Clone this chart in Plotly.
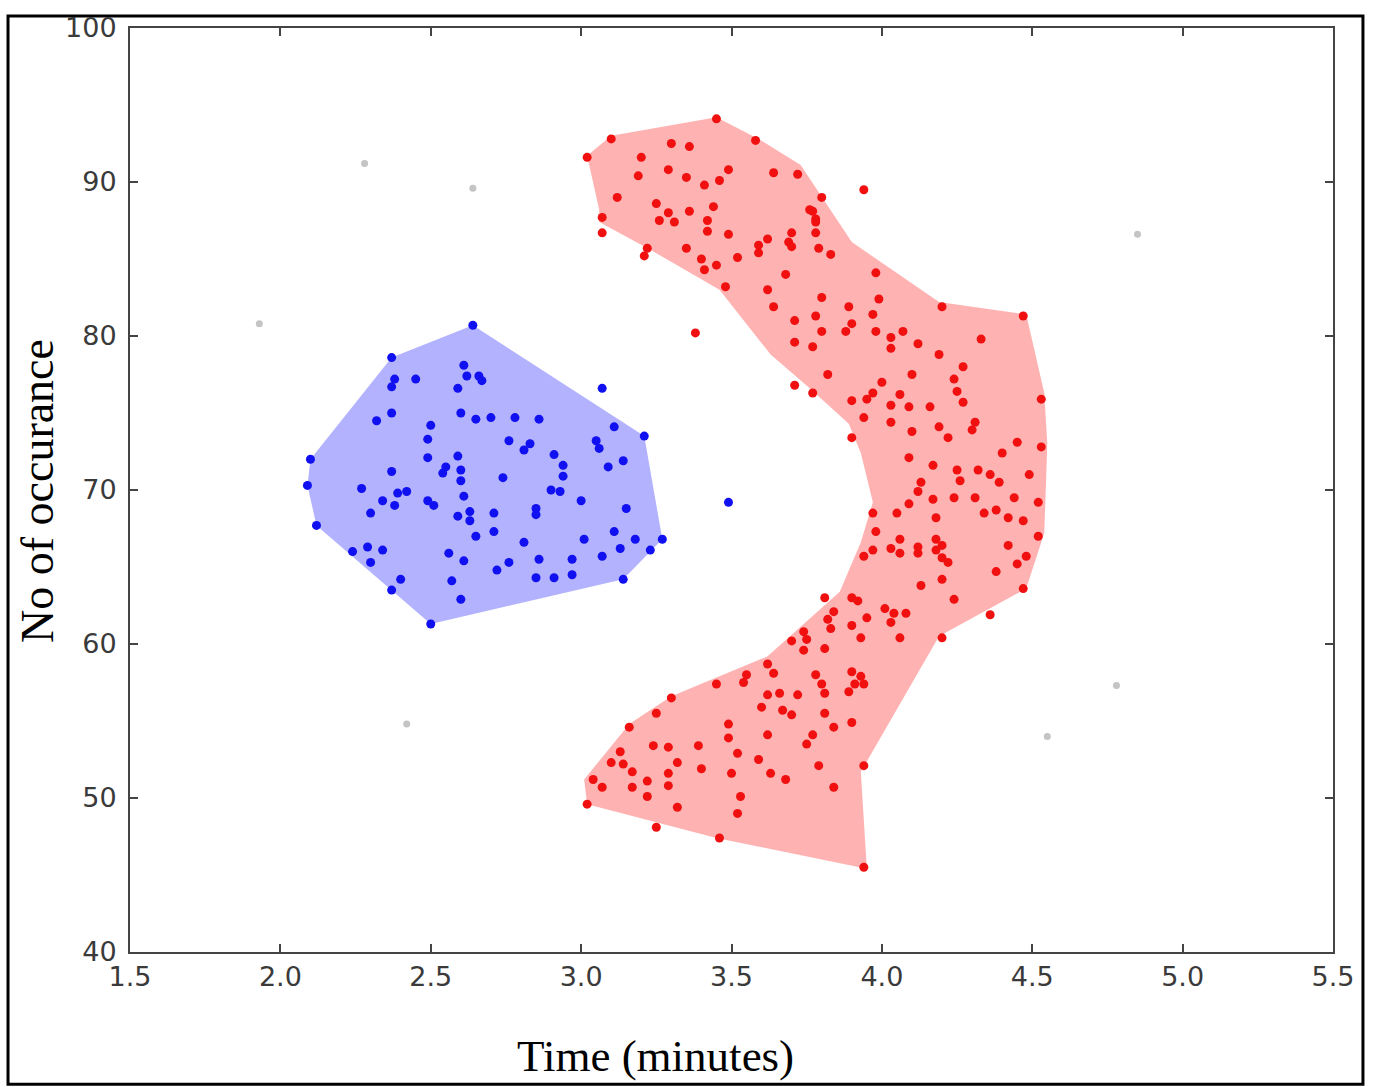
import plotly.graph_objects as go

# ---------------- data (x = minutes, y = occurrences) ----------------
x_ticks = [1.5, 2.0, 2.5, 3.0, 3.5, 4.0, 4.5, 5.0, 5.5]
x_tick_labels = ["1.5", "2.0", "2.5", "3.0", "3.5", "4.0", "4.5", "5.0", "5.5"]
y_ticks = [40, 50, 60, 70, 80, 90, 100]
y_tick_labels = ["40", "50", "60", "70", "80", "90", "100"]

blue_cluster = [
    (2.64, 80.7), (2.37, 78.6), (2.61, 78.1), (2.62, 77.4), (2.66, 77.4), (2.45, 77.2),
    (2.38, 77.2), (2.37, 76.7), (2.59, 76.6), (2.37, 75.0), (2.32, 74.5), (2.60, 75.0),
    (2.65, 74.6), (2.50, 74.2), (2.49, 73.3), (2.10, 72.0), (2.49, 72.1), (2.59, 72.2),
    (2.55, 71.5), (2.54, 71.1), (2.37, 71.2), (2.60, 71.3), (2.60, 70.6), (2.09, 70.3),
    (2.27, 70.1), (2.39, 69.8), (2.42, 69.9), (2.61, 69.6), (2.34, 69.3), (2.38, 69.0),
    (2.49, 69.3), (2.51, 69.0), (2.30, 68.5), (2.59, 68.3), (2.63, 68.6), (2.63, 68.0),
    (2.12, 67.7), (2.65, 67.0), (2.24, 66.0), (2.29, 66.3), (2.34, 66.1), (2.30, 65.3),
    (2.56, 65.9), (2.61, 65.4), (2.40, 64.2), (2.37, 63.5), (2.57, 64.1), (2.60, 62.9),
    (2.50, 61.3), (2.67, 77.1), (2.70, 74.7), (2.78, 74.7), (2.86, 74.6),
    (3.11, 74.1), (3.21, 73.5), (2.76, 73.2), (2.81, 72.6), (2.83, 73.0), (3.05, 73.2),
    (3.06, 72.7), (2.91, 72.3), (3.14, 71.9), (3.09, 71.5), (2.94, 71.6), (2.74, 70.8),
    (2.94, 70.9), (2.90, 70.0), (2.93, 69.9), (3.00, 69.3), (2.85, 68.8), (2.85, 68.4),
    (3.15, 68.8), (2.71, 68.5), (2.71, 67.3), (2.81, 66.6), (3.01, 66.8), (3.11, 67.3),
    (3.18, 66.8), (3.27, 66.8), (3.13, 66.2), (3.23, 66.1), (2.76, 65.3), (2.72, 64.8),
    (2.86, 65.5), (2.97, 65.5), (3.07, 65.7), (2.85, 64.3), (2.91, 64.3), (2.97, 64.5),
    (3.14, 64.2),
]
blue_outliers = [(3.49, 69.2), (3.07, 76.6)]

red_upper = [
    (3.45, 94.1), (3.10, 92.8), (3.02, 91.6), (3.30, 92.5), (3.36, 92.3), (3.58, 92.7),
    (3.20, 91.6), (3.29, 90.8), (3.19, 90.4), (3.35, 90.3), (3.41, 89.8), (3.46, 90.1),
    (3.49, 90.8), (3.64, 90.6), (3.72, 90.5), (3.12, 89.0), (3.25, 88.6), (3.29, 88.0),
    (3.36, 88.1), (3.44, 88.4), (3.26, 87.5), (3.31, 87.4), (3.42, 87.5), (3.42, 86.8),
    (3.49, 86.6), (3.07, 87.7), (3.07, 86.7), (3.22, 85.7), (3.21, 85.2), (3.35, 85.7),
    (3.40, 85.0), (3.41, 84.3), (3.45, 84.6), (3.52, 85.1), (3.59, 85.9), (3.59, 85.4),
    (3.62, 86.3), (3.69, 86.1), (3.70, 86.7), (3.77, 88.1), (3.78, 87.4), (3.78, 86.7),
    (3.80, 89.0), (3.79, 85.7), (3.68, 84.0), (3.48, 83.2), (3.62, 83.0), (3.80, 82.5),
    (3.94, 89.5), (3.76, 88.2), (3.78, 87.6), (3.70, 85.8), (3.83, 85.3), (3.98, 84.1),
    (3.99, 82.4), (3.64, 81.9), (3.78, 81.3), (3.89, 81.9), (3.97, 81.4), (3.90, 80.8),
    (3.88, 80.3), (3.71, 81.0), (3.80, 80.3), (3.98, 80.3), (4.03, 79.9), (4.07, 80.3),
    (4.03, 79.2), (4.12, 79.5), (3.71, 79.6), (3.77, 79.3), (3.38, 80.2), (3.82, 77.5),
    (3.71, 76.8), (3.77, 76.3), (4.00, 77.0), (3.97, 76.3), (4.06, 76.2), (4.10, 77.5),
    (4.19, 78.8), (4.20, 81.9), (4.47, 81.3), (4.33, 79.8), (4.27, 78.0),
]

red_middle = [
    (4.24, 77.2), (4.25, 76.4), (4.27, 75.7), (3.90, 75.8), (3.95, 75.9), (4.03, 75.5),
    (4.09, 75.4), (4.16, 75.4), (3.94, 74.7), (4.03, 74.4), (4.53, 75.9), (4.31, 74.4),
    (4.30, 73.9), (4.19, 74.1), (4.22, 73.4), (4.10, 73.8), (3.90, 73.4), (4.45, 73.1),
    (4.53, 72.8), (4.40, 72.4), (4.09, 72.1), (4.17, 71.6), (4.25, 71.3), (4.32, 71.3),
    (4.36, 71.0), (4.39, 70.5), (4.26, 70.6), (4.13, 70.5), (4.49, 71.0), (4.12, 69.9),
    (4.09, 69.1), (4.17, 69.4), (4.24, 69.5), (4.31, 69.5), (4.44, 69.5), (4.52, 69.2),
    (3.97, 68.5), (4.05, 68.5), (4.18, 68.2), (4.34, 68.5), (4.38, 68.7), (4.42, 68.2),
    (4.47, 68.0), (3.98, 67.3), (4.06, 66.8), (4.18, 66.8), (4.20, 66.4), (4.18, 66.1),
    (4.12, 66.3), (4.03, 66.2), (3.97, 66.1), (3.94, 65.7), (4.52, 67.0), (4.42, 66.4),
    (4.06, 65.9), (4.12, 65.9), (4.20, 65.6), (4.22, 65.3), (4.48, 65.7), (4.45, 65.2),
    (4.38, 64.7), (4.20, 64.2), (4.13, 63.8), (4.47, 63.6), (4.24, 62.9), (4.36, 61.9),
    (3.81, 63.0), (3.90, 63.0), (3.92, 62.8), (3.84, 62.1), (3.82, 61.6), (3.95, 61.7),
    (4.01, 62.3), (4.04, 62.0), (4.08, 62.0), (4.03, 61.4), (3.90, 61.2), (3.83, 61.0),
    (3.93, 60.4), (4.06, 60.4), (4.20, 60.4),
]

red_lower = [
    (3.74, 60.8), (3.70, 60.2), (3.75, 60.3), (3.74, 59.6), (3.81, 59.7), (3.62, 58.7),
    (3.64, 58.1), (3.78, 58.0), (3.80, 57.4), (3.81, 56.8), (3.90, 58.2), (3.93, 57.9),
    (3.94, 57.4), (3.91, 57.4), (3.89, 56.9), (3.55, 58.0), (3.54, 57.5), (3.45, 57.4),
    (3.62, 56.7), (3.66, 56.8), (3.72, 56.7), (3.60, 55.9), (3.67, 55.7), (3.70, 55.4),
    (3.81, 55.5), (3.90, 54.9), (3.84, 54.6), (3.77, 54.1), (3.75, 53.5), (3.30, 56.5),
    (3.25, 55.5), (3.16, 54.6), (3.49, 54.8), (3.49, 53.9), (3.62, 54.1), (3.24, 53.4),
    (3.29, 53.3), (3.39, 53.4), (3.13, 53.0), (3.10, 52.3), (3.14, 52.2), (3.32, 52.3),
    (3.52, 52.9), (3.59, 52.5), (3.17, 51.7), (3.29, 51.6), (3.40, 51.9), (3.50, 51.6),
    (3.63, 51.6), (3.68, 51.2), (3.79, 52.1), (3.94, 52.1), (3.04, 51.2), (3.07, 50.7),
    (3.17, 50.7), (3.22, 51.1), (3.29, 50.8), (3.22, 50.1), (3.53, 50.1), (3.84, 50.7),
    (3.02, 49.6), (3.32, 49.4), (3.52, 49.0), (3.25, 48.1), (3.46, 47.4), (3.94, 45.5),
]

# outline of the red (crescent) cluster region
red_region = [
    (3.02, 91.7), (3.10, 93.0), (3.45, 94.2), (3.59, 92.8), (3.73, 91.1), (3.90, 86.1),
    (4.19, 82.2), (4.48, 81.4), (4.54, 76.3), (4.55, 73.0), (4.54, 67.2), (4.48, 63.6),
    (4.19, 60.5), (3.93, 51.7), (3.95, 45.4), (3.45, 47.4), (3.02, 49.6), (3.01, 51.2),
    (3.16, 54.8), (3.30, 56.6), (3.62, 59.2), (3.86, 63.4), (3.93, 66.6), (3.97, 69.2),
    (3.93, 72.4), (3.89, 74.3), (3.76, 76.6), (3.63, 78.8), (3.46, 83.0), (3.23, 85.6),
    (3.06, 87.4), (3.06, 88.2),
]

noise_points = [
    (2.28, 91.2), (2.64, 89.6), (1.93, 80.8), (2.42, 54.8), (4.85, 86.6), (4.55, 54.0),
    (4.78, 57.3),
]


def convex_hull(points):
    pts = sorted(set(points))
    def cross(o, a, b):
        return (a[0] - o[0]) * (b[1] - o[1]) - (a[1] - o[1]) * (b[0] - o[0])
    lower, upper = [], []
    for p in pts:
        while len(lower) >= 2 and cross(lower[-2], lower[-1], p) <= 0:
            lower.pop()
        lower.append(p)
    for p in reversed(pts):
        while len(upper) >= 2 and cross(upper[-2], upper[-1], p) <= 0:
            upper.pop()
        upper.append(p)
    return lower[:-1] + upper[:-1]


blue_hull = convex_hull(blue_cluster)
red_points = red_upper + red_middle + red_lower
blue_points = blue_cluster + blue_outliers

fig = go.Figure()

fig.add_trace(go.Scatter(
    x=[p[0] for p in blue_hull] + [blue_hull[0][0]],
    y=[p[1] for p in blue_hull] + [blue_hull[0][1]],
    fill="toself", fillcolor="rgba(0,0,255,0.3)", mode="lines",
    line=dict(width=0, color="rgba(0,0,255,0)"), hoverinfo="skip", showlegend=False,
))
fig.add_trace(go.Scatter(
    x=[p[0] for p in red_region] + [red_region[0][0]],
    y=[p[1] for p in red_region] + [red_region[0][1]],
    fill="toself", fillcolor="rgba(255,0,0,0.3)", mode="lines",
    line=dict(width=0, color="rgba(255,0,0,0)"), hoverinfo="skip", showlegend=False,
))
fig.add_trace(go.Scatter(
    x=[p[0] for p in noise_points], y=[p[1] for p in noise_points], mode="markers",
    marker=dict(size=7, color="#c4c4c4"), showlegend=False,
))
fig.add_trace(go.Scatter(
    x=[p[0] for p in blue_points], y=[p[1] for p in blue_points], mode="markers",
    marker=dict(size=9, color="#1010f0"), showlegend=False,
))
fig.add_trace(go.Scatter(
    x=[p[0] for p in red_points], y=[p[1] for p in red_points], mode="markers",
    marker=dict(size=9, color="#f01010"), showlegend=False,
))

axis_common = dict(
    showgrid=False, zeroline=False, showline=True, linecolor="#444444", linewidth=2,
    mirror="ticks", ticks="inside", ticklen=8, tickwidth=1.5, tickcolor="#444444",
    tickfont=dict(family="DejaVu Sans", size=27, color="#3a3a3a"),
)

fig.update_xaxes(range=[1.5, 5.5], tickvals=x_ticks, ticktext=x_tick_labels,
                 ticklabelstandoff=0, **axis_common)
fig.update_yaxes(range=[40, 100], tickvals=y_ticks, ticktext=y_tick_labels,
                 ticklabelstandoff=6, **axis_common)

fig.update_layout(
    width=1375, height=1087,
    margin=dict(l=130, r=42, t=22, b=135),
    paper_bgcolor="white", plot_bgcolor="white",
    showlegend=False,
    shapes=[dict(type="rect", xref="paper", yref="paper",
                 x0=-0.1014, x1=1.0249, y0=-0.143, y1=1.0129,
                 line=dict(color="black", width=3), fillcolor="rgba(0,0,0,0)", layer="below")],
    annotations=[
        dict(text="Time (minutes)", xref="paper", yref="paper", x=(655 - 130) / 1203,
             y=(952 - 1057) / 930, showarrow=False, xanchor="center", yanchor="middle",
             font=dict(family="Liberation Serif", size=45, color="black")),
        dict(text="No of occurance", xref="paper", yref="paper", x=(38 - 130) / 1203,
             y=(952 - 488) / 930, showarrow=False, xanchor="center", yanchor="middle",
             textangle=-90, font=dict(family="Liberation Serif", size=46, color="black")),
    ],
)

fig.write_html("out.html")
